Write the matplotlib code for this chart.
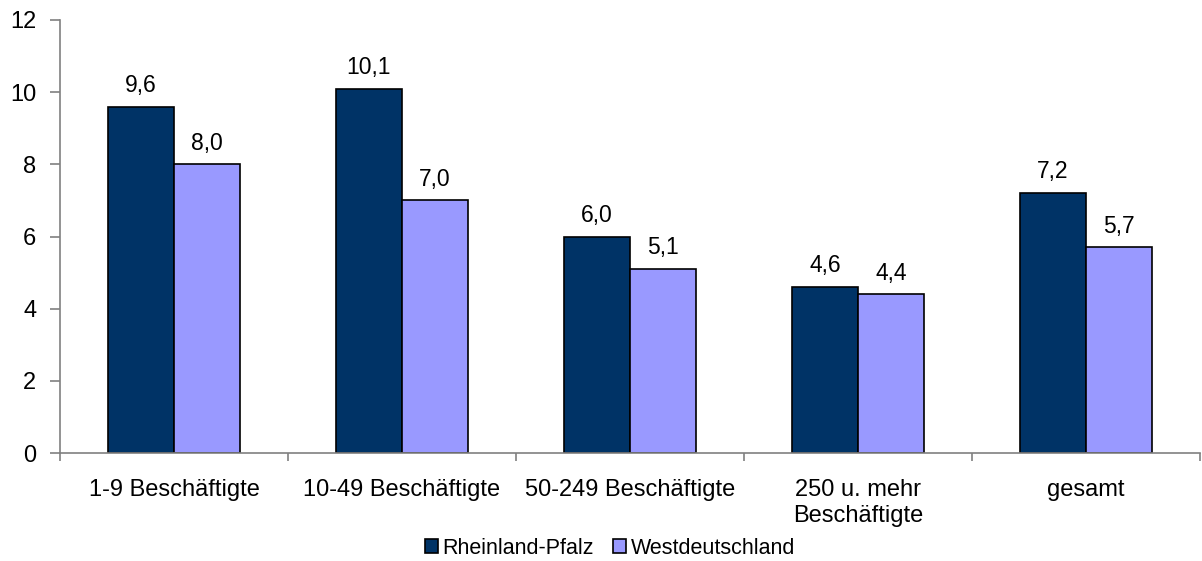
import numpy as np
import matplotlib.pyplot as plt
from matplotlib.ticker import FixedLocator

categories = ["1-9 Beschäftigte", "10-49 Beschäftigte", "50-249 Beschäftigte",
              "250 u. mehr\nBeschäftigte", "gesamt"]
rlp = [9.6, 10.1, 6.0, 4.6, 7.2]
west = [8.0, 7.0, 5.1, 4.4, 5.7]

plt.rcParams["font.family"] = ["Liberation Sans", "DejaVu Sans"]
plt.rcParams["font.size"] = 17

fig = plt.figure(figsize=(12.02, 5.61), dpi=100)
ax = fig.add_axes([60 / 1202, 108 / 561, 1140 / 1202, 433 / 561])

x = np.arange(len(categories))
w = 0.29
b1 = ax.bar(x - w / 2, rlp, w, color="#003366", edgecolor="black", linewidth=1.2,
            label="Rheinland-Pfalz")
b2 = ax.bar(x + w / 2, west, w, color="#9999FF", edgecolor="black", linewidth=1.2,
            label="Westdeutschland")

for bars, vals in ((b1, rlp), (b2, west)):
    for r, v in zip(bars, vals):
        ax.annotate(f"{v:.1f}".replace(".", ","), (r.get_x() + r.get_width() / 2, v),
                    xytext=(0, 7), textcoords="offset points", ha="center", va="bottom",
                    fontsize=16.5)

ax.set_xlim(-0.5, len(categories) - 0.5)
ax.set_ylim(0, 12)
ax.set_yticks(range(0, 13, 2))
ax.set_xticks(x)
ax.set_xticklabels(categories, linespacing=1.2)
ax.xaxis.set_minor_locator(FixedLocator(np.arange(-0.5, len(categories), 1)))
ax.tick_params(axis="x", which="major", length=0, pad=19)
ax.tick_params(axis="x", which="minor", length=6, color="#808080", width=1.2)
ax.tick_params(axis="y", length=7, color="#808080", width=1.2, pad=10)

for s in ("top", "right"):
    ax.spines[s].set_visible(False)
for s in ("left", "bottom"):
    ax.spines[s].set_color("#808080")
    ax.spines[s].set_linewidth(1.2)

fig.legend(loc="center", bbox_to_anchor=(610 / 1202, 1 - 548 / 561), ncol=2,
           frameon=False, handlelength=0.6, handleheight=0.6, handletextpad=0.2,
           columnspacing=0.9, fontsize=15.5)

fig.savefig("out.png", dpi=100)
